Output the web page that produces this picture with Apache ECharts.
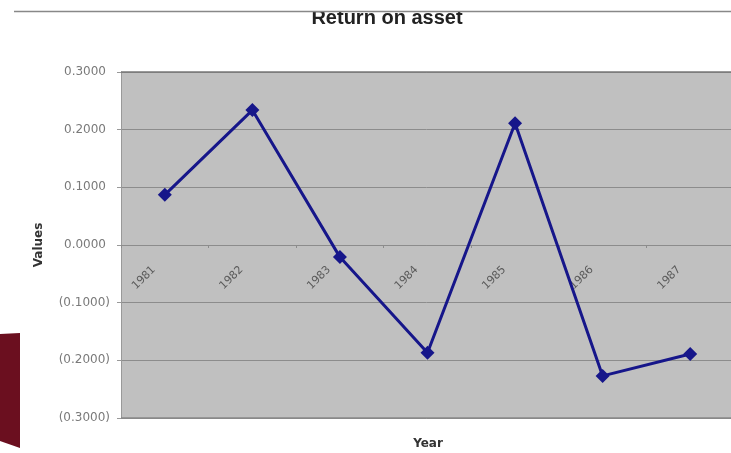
<!DOCTYPE html>
<html><head><meta charset="utf-8">
<script src="https://cdn.jsdelivr.net/npm/echarts@6/dist/echarts.min.js"></script>
<style>html,body{margin:0;padding:0;background:#fff}#c{width:731px;height:453px}</style>
</head><body><div id="c"></div>
<script>
var years = ['1981','1982','1983','1984','1985','1986','1987'];
var roa = [0.087, 0.234, -0.021, -0.187, 0.211, -0.227, -0.189];
var yTicks = [-0.3, 0.3, 0.1];

function fmt(v){
  var a = Math.abs(v).toFixed(4);
  return v < -1e-9 ? '(' + a + ')' : '{p|' + a + '}';
}
var labelFont = { fontFamily: 'DejaVu Sans', fontSize: 12, color: '#7a7a7a' };

var chart = echarts.init(document.getElementById('c'));
chart.setOption({
  animation: false,
  backgroundColor: '#fff',
  title: { text: 'Return on asset', left: 382, textAlign: 'center', top: 3,
    textStyle: { fontFamily: 'Liberation Sans', fontWeight: 'bold', fontSize: 20, color: '#222' } },
  grid: [
    { left: 121, right: -3, top: 72, height: 346, backgroundColor: '#c0c0c0', show: true, borderWidth: 0, outerBoundsMode: 'none' },
    { left: 110, right: 8, top: 246, height: 1, show: false, outerBoundsMode: 'none' }
  ],
  xAxis: [
    { type: 'category', data: years, gridIndex: 0, boundaryGap: true,
      axisLine: { show: true, onZero: true, lineStyle: { color: '#8c8c8c' } },
      axisTick: { show: true, length: 3, lineStyle: { color: '#8c8c8c' } },
      axisLabel: { show: false } },
    { type: 'category', data: years, gridIndex: 1, position: 'bottom', boundaryGap: true,
      axisLine: { show: false }, axisTick: { show: false },
      axisLabel: { rotate: 45, margin: 21, fontFamily: 'DejaVu Sans', fontSize: 11, color: '#5a5a5a' } }
  ],
  yAxis: [
    { type: 'value', gridIndex: 0, min: yTicks[0], max: yTicks[1], interval: yTicks[2],
      name: 'Values', nameLocation: 'middle', nameGap: 76, nameRotate: 90,
      nameTextStyle: { fontFamily: 'DejaVu Sans', fontWeight: 'bold', fontSize: 12, color: '#333' },
      axisLine: { show: true, lineStyle: { color: '#999' } },
      axisTick: { show: true, length: 4, lineStyle: { color: '#999' } },
      axisLabel: Object.assign({ formatter: fmt, margin: 11, align: 'right',
        rich: { p: Object.assign({ padding: [0, 4, 0, 0] }, labelFont) } }, labelFont),
      splitLine: { show: true, lineStyle: { color: '#8c8c8c', width: 1 } } },
    { type: 'value', gridIndex: 1, show: false }
  ],
  series: [
    { type: 'line', xAxisIndex: 0, yAxisIndex: 0, data: roa,
      symbol: 'diamond', symbolSize: 14,
      lineStyle: { color: '#16168a', width: 3 },
      itemStyle: { color: '#16168a' } }
  ],
  graphic: [
    { type: 'rect', z: 100, shape: { x: 0, y: 0, width: 731, height: 11 }, style: { fill: '#fff' } },
    { type: 'line', z: 101, shape: { x1: 14, y1: 11.5, x2: 731, y2: 11.5 }, style: { stroke: '#888', lineWidth: 1.5 } },
    { type: 'line', z: 101, shape: { x1: 121, y1: 72, x2: 731, y2: 72 }, style: { stroke: '#777', lineWidth: 1.5 } },
    { type: 'line', z: 101, shape: { x1: 121, y1: 418, x2: 731, y2: 418 }, style: { stroke: '#888', lineWidth: 1.5 } },
    { type: 'text', z: 101, x: 428, y: 444, style: { text: 'Year', align: 'center', verticalAlign: 'middle',
      fontFamily: 'DejaVu Sans', fontWeight: 'bold', fontSize: 12, fill: '#333' } },
    { type: 'polygon', z: 101, shape: { points: [[0, 334], [20, 333], [20, 448], [0, 441]] }, style: { fill: '#6b0f1f' } }
  ]
});
</script></body></html>
